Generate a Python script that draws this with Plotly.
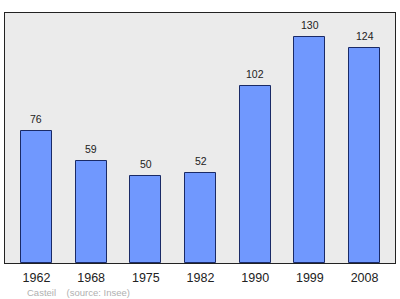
import plotly.graph_objects as go

years = ["1962", "1968", "1975", "1982", "1990", "1999", "2008"]
population = [76, 59, 50, 52, 102, 130, 124]
footer = "Casteil    (source: Insee)"

xpos = list(range(len(years)))

fig = go.Figure(go.Bar(
    x=xpos, y=population,
    width=0.57,
    marker=dict(color="#7098fe", line=dict(color="#1a2a66", width=1)),
    hoverinfo="skip",
))

for xp, v in zip(xpos, population):
    fig.add_annotation(
        x=xp, y=v, xref="x", yref="y", text=str(v),
        showarrow=False, yanchor="middle", yshift=12,
        font=dict(family="Liberation Sans", size=10.5, color="#222222"),
    )

fig.update_layout(
    width=400, height=299,
    margin=dict(l=5, r=5, t=13, b=36),
    paper_bgcolor="white",
    plot_bgcolor="#ebebeb",
    showlegend=False,
    bargap=0,
    xaxis=dict(
        range=[-0.576, 6.557],
        tickmode="array", tickvals=xpos, ticktext=years,
        showgrid=False, zeroline=False,
        ticks="outside", ticklen=3, tickcolor="rgba(0,0,0,0)",
        tickfont=dict(family="Liberation Sans", size=12.5, color="#222222"),
        showline=True, linecolor="#222222", linewidth=1, mirror=True,
    ),
    yaxis=dict(
        range=[0, 144],
        showgrid=False, zeroline=False, showticklabels=False, ticks="",
        showline=True, linecolor="#222222", linewidth=1, mirror=True,
    ),
)
fig.add_annotation(
    text=footer, xref="paper", yref="paper",
    x=0.05, y=-0.118, xanchor="left", yanchor="middle",
    showarrow=False,
    font=dict(family="Liberation Sans", size=9.5, color="#b0b0b0"),
)

fig.write_html("out.html")
